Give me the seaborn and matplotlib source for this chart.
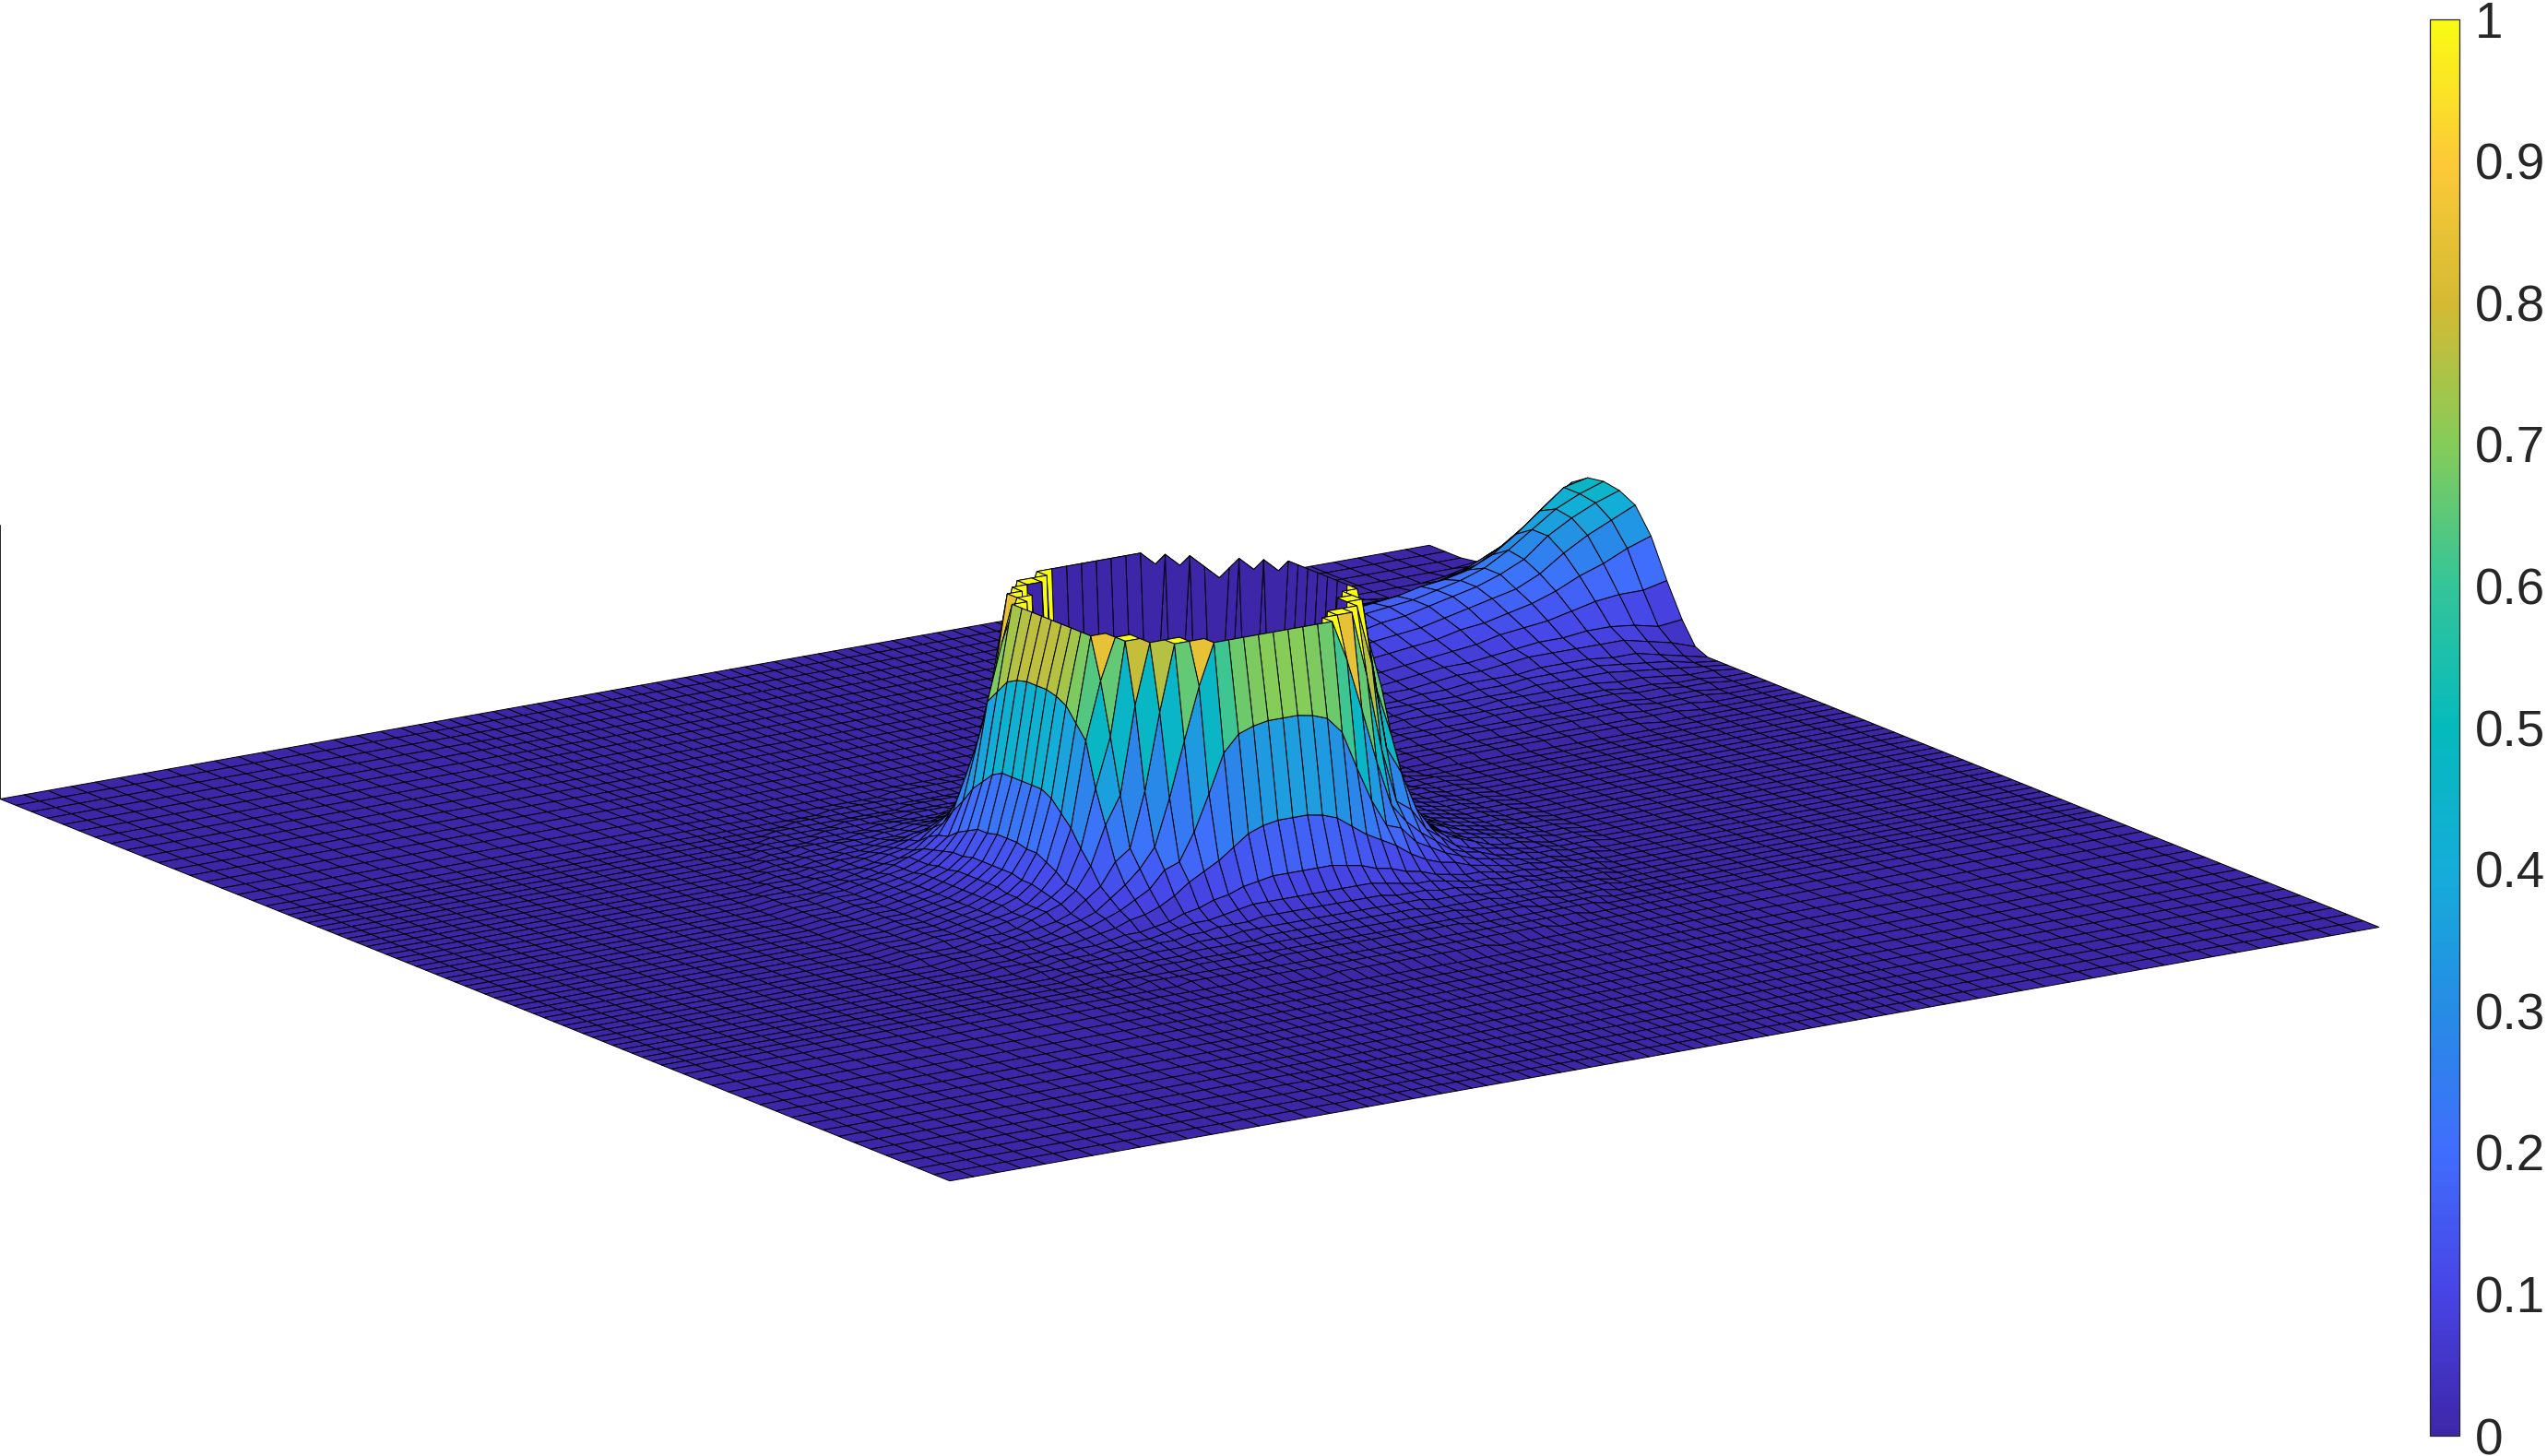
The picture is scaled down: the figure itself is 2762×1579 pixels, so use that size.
import numpy as np
import matplotlib
matplotlib.use("Agg")
import matplotlib.pyplot as plt
from matplotlib.cm import ScalarMappable
from matplotlib.colors import Normalize
from mpl_toolkits.mplot3d import proj3d
from mpl_toolkits.mplot3d.art3d import Poly3DCollection
import seaborn as sns

# Mesh lines from the centre outwards (the mesh is finer round the crater).
half_nodes = [0, .0207, .0414, .0621, .0828, .1035, .1242, .1449, .1656, .1863, .207, .2277, .2484,
              .2691, .2898, .3105, .3312, .3519, .3726, .3933, .414, .44, .468, .5, .5333, .5667,
              .6, .6333, .6667, .7, .7333, .7667, .8, .8333, .8667, .9, .9333, .9667, 1.0]

# Heights in percent, read node by node from the picture.
# Ring: quarter of the crater, rows = |y nodes| and columns = |x nodes| from the crater's centre node.
ring_00 = [0,0,0,0,0,0,0,0,0,100,77,43,23,14,10,7,5,4,3,2,2,1,1]
ring_01 = [0,0,0,0,0,0,0,0,0,100,77,43,23,14,10,7,5,4,3,2,2,1,1]
ring_02 = [0,0,0,0,0,0,0,0,0,100,76,43,22,14,10,7,5,4,3,2,2,1,1]
ring_03 = [0,0,0,0,0,0,0,0,0,100,74,41,22,13,9,7,5,4,3,2,2,1,1]
ring_04 = [0,0,0,0,0,0,0,0,100,100,69,37,20,13,9,7,5,4,3,2,2,1,1]
ring_05 = [0,0,0,0,0,0,0,100,100,85,64,33,18,12,8,6,5,4,3,2,2,1,1]
ring_06 = [0,0,0,0,0,0,0,100,100,66,48,27,15,11,8,6,5,4,3,2,2,1,1]
ring_07 = [0,0,0,0,0,100,100,100,78,46,36,22,14,10,8,6,4,3,3,2,1,1,1]
ring_08 = [0,0,0,0,100,100,100,76,48,28,24,16,12,8,6,5,4,3,2,2,1,1,1]
ring_09 = [100,100,100,100,100,85,66,46,29,22,17,13,9,7,6,4,3,3,2,2,1,1,0]
ring_10 = [70,70,69,67,61,47,34,24,22,16,13,10,8,6,5,4,3,2,2,1,1,1,0]
ring_11 = [35,35,34,32,28,24,21,18,14,11,9,8,6,5,4,3,3,2,2,1,1,0,0]
ring_12 = [17,17,17,16,15,13,12,10,9,7,6,5,5,4,3,3,2,2,1,1,1,0,0]
ring_13 = [10,10,10,10,10,9,8,7,7,6,5,4,4,3,3,2,2,2,1,1,0,0,0]
ring_14 = [7,7,7,7,7,6,6,6,5,5,4,4,3,3,3,2,2,1,1,1,0,0,0]
ring_15 = [5,5,5,5,5,5,5,4,4,4,3,3,3,2,2,2,2,1,1,0,0,0,0]
ring_16 = [4,4,4,4,4,4,3,3,3,3,3,2,2,2,2,1,1,1,1,0,0,0,0]
ring_17 = [3,3,3,3,3,3,3,3,2,2,2,2,2,2,1,1,1,1,0,0,0,0,0]
ring_18 = [2,2,2,2,2,2,2,2,2,2,2,2,1,1,1,1,1,0,0,0,0,0,0]
ring_19 = [2,2,2,2,2,2,2,1,1,1,1,1,1,1,1,1,0,0,0,0,0,0,0]
ring_20 = [1,1,1,1,1,1,1,1,1,1,1,1,1,1,0,0,0,0,0,0,0,0,0]
ring_21 = [1,1,1,1,1,1,1,1,1,1,1,0,0,0,0,0,0,0,0,0,0,0,0]
ring_22 = [1,1,1,1,1,1,0,0,0,0,0,0,0,0,0,0,0,0,0,0,0,0,0]

# Far side of the rim (hidden behind the lip): nodes counted from the crater's centre node.
back_p = [9, 8, 7, 6, 5, 4, 7, 9, 8, 8, 7, 6, 5]
back_q = [4, 5, 6, 7, 8, 9, 7, 5, 6, 7, 8, 8, 9]
back_z = [95, 95, 95, 95, 95, 95, 90, 75, 65, 62, 62, 65, 75]

# Bump on the far edge: rows = mesh steps in from that edge, columns = y nodes 10..38 from the centre.
bump_00 = [0,0,0,0,0,0,0,0,0,0,0,2,10,22,36,45,48,49,48,44,37,29,21,13,6,1,0,0,0]
bump_01 = [0,0,0,0,0,0,0,1,1,1,2,5,9,20,33,41,45,46,46,38,30,22,14,8,3,0,0,0,0]
bump_02 = [0,0,0,0,0,1,1,1,2,3,4,7,11,20,29,37,41,42,39,31,23,16,10,5,1,0,0,0,0]
bump_03 = [0,0,0,1,1,1,1,2,3,4,6,9,12,19,26,32,36,36,32,25,19,12,7,3,0,0,0,0,0]
bump_04 = [0,0,1,1,1,2,2,3,4,5,6,9,12,17,22,26,29,30,26,20,15,10,6,1,0,0,0,0,0]
bump_05 = [0,1,1,1,1,2,2,3,5,6,7,9,11,15,19,22,25,25,22,17,13,8,4,0,0,0,0,0,0]
bump_06 = [0,1,1,2,2,3,3,4,5,6,7,9,11,14,17,20,22,22,20,15,11,7,3,1,0,0,0,0,0]
bump_07 = [1,1,2,2,2,3,3,4,5,6,7,9,10,13,15,18,20,20,19,14,10,6,3,1,0,0,0,0,0]
bump_08 = [1,1,2,2,2,3,3,4,5,6,6,8,9,11,14,16,18,18,17,13,9,6,3,1,0,0,0,0,0]
bump_09 = [1,1,2,2,2,3,3,4,4,5,6,7,8,10,12,14,16,17,16,12,8,5,3,1,0,0,0,0,0]
bump_10 = [1,1,2,2,2,3,3,4,4,5,6,7,8,9,11,13,15,16,15,11,7,5,2,1,0,0,0,0,0]
bump_11 = [1,1,1,2,2,3,3,3,4,4,5,6,7,8,10,12,13,14,13,10,7,4,2,1,0,0,0,0,0]
bump_12 = [1,1,1,2,2,2,3,3,4,4,5,5,6,7,9,10,12,13,13,12,10,8,6,4,2,1,0,0,0]
bump_13 = [1,1,1,2,2,2,3,3,4,4,4,5,5,7,8,9,11,12,12,11,9,7,5,3,2,1,0,0,0]
bump_14 = [1,1,1,1,2,2,2,3,3,4,4,4,5,6,7,8,10,11,11,10,8,6,4,3,1,1,0,0,0]
bump_15 = [1,1,1,1,2,2,2,2,3,3,3,4,4,5,6,7,9,10,10,9,7,5,4,2,1,0,0,0,0]
bump_16 = [0,1,1,1,1,1,2,2,2,3,3,3,4,5,6,7,8,9,9,8,6,5,3,2,1,0,0,0,0]
bump_17 = [0,0,1,1,1,1,2,2,2,2,3,3,3,4,5,6,7,8,8,7,6,4,3,2,1,0,0,0,0]
bump_18 = [0,0,0,1,1,1,1,2,2,2,2,3,3,3,4,5,6,7,7,6,5,4,2,1,1,0,0,0,0]

cbar_ticks = [0, 0.1, 0.2, 0.3, 0.4, 0.5, 0.6, 0.7, 0.8, 0.9, 1]
cbar_labels = ["0", "0.1", "0.2", "0.3", "0.4", "0.5", "0.6", "0.7", "0.8", "0.9", "1"]
parula = [(0.2422,0.1504,0.6603),(0.2810,0.2670,0.9000),(0.2500,0.4300,0.9900),
          (0.1500,0.5500,0.9000),(0.0800,0.6800,0.8500),(0.0200,0.7300,0.7400),
          (0.2000,0.7700,0.6000),(0.5200,0.8000,0.3500),(0.8300,0.7300,0.2000),
          (0.9900,0.7900,0.2200),(0.9769,0.9839,0.0805)]

sns.set_theme(style="white")
plt.rcParams["font.family"] = ["Liberation Sans", "DejaVu Sans"]
cmap = sns.blend_palette(parula, n_colors=64, as_cmap=True)

W, H = 2762, 1579
half_arr = np.array(half_nodes)
nodes = np.concatenate([-half_arr[:0:-1], half_arr])
X, Y = np.meshgrid(nodes, nodes)

quarter = np.array([ring_00, ring_01, ring_02, ring_03, ring_04, ring_05, ring_06, ring_07, ring_08,
                    ring_09, ring_10, ring_11, ring_12, ring_13, ring_14, ring_15, ring_16, ring_17,
                    ring_18, ring_19, ring_20, ring_21, ring_22], float)
half = np.hstack([quarter[:, :0:-1], quarter])
ring_block = np.vstack([half[:0:-1], half])
bump_block = np.array([bump_00, bump_01, bump_02, bump_03, bump_04, bump_05, bump_06, bump_07,
                       bump_08, bump_09, bump_10, bump_11, bump_12, bump_13, bump_14, bump_15,
                       bump_16, bump_17, bump_18], float).T[:, ::-1]
Z = np.zeros((77, 77))
Z[15:60, 15:60] += ring_block          # the crater's centre node is one mesh step off the plate's centre
for p, q, v in zip(back_p, back_q, back_z):
    Z[37 + q, 37 + p] = v
Z[48:77, 58:77] += bump_block
Z /= 100.0

fig = plt.figure(figsize=(W / 100, H / 100), dpi=100, facecolor="white")
ax = fig.add_axes([0, 0, 1, 1], projection="3d", proj_type="ortho")
ax.set_axis_off()
ax.computed_zorder = False
ax.view_init(elev=15.5, azim=-123.6)
ax.set_box_aspect((1, 1, 0.1652))
ax.set_xlim(-1, 1, view_margin=0)
ax.set_ylim(-1, 1, view_margin=0)
ax.set_zlim(0, 1, view_margin=0)

# place the axes so that the plate's centre and width land where they are in the reference
ax.M = ax.get_proj()
xl = ax.viewLim.intervalx
yl = ax.viewLim.intervaly
def unit(px, py, pz):
    a, b, _ = proj3d.proj_transform(px, py, pz, ax.M)
    return (a - xl[0]) / (xl[1] - xl[0]), (b - yl[0]) / (yl[1] - yl[0])
u0, v0 = unit(0, 0, 0)
u1, _ = unit(1, -1, 0)
u2, _ = unit(-1, -1, 0)
S = 1550 / (u1 - u2)
left = 1290 - u0 * S
bottom = (H - 936) - v0 * S
ax.set_position([left / W, bottom / H, S / W, S / H])

# Three layers, because a depth sort alone paints the rim's far slope over the crater's inner wall:
# what lies behind the crater, then the crater's inside, then what lies in front of it.
hole = np.zeros_like(Z, dtype=bool)
hole[28:47, 28:47] = Z[28:47, 28:47] == 0
layers = {0: ([], []), 1: ([], []), 2: ([], [])}
for r in range(Z.shape[0] - 1):
    for c in range(Z.shape[1] - 1):
        ids = [(r, c), (r, c + 1), (r + 1, c + 1), (r + 1, c)]
        cell = [(X[i], Y[i], Z[i]) for i in ids]
        if any(hole[i] for i in ids):
            layer = 1
        else:
            cx = np.mean([v[0] for v in cell])
            cy = np.mean([v[1] for v in cell])
            layer = 0 if 0.553 * (cx + 0.0207) + 0.833 * (cy + 0.0207) > 0 else 2
        layers[layer][0].append(cell)
        layers[layer][1].append(cmap(float(np.clip(Z[r, c], 0, 1))))
for layer, (cells, colours) in layers.items():
    coll = Poly3DCollection(cells, facecolors=colours, edgecolors="black", linewidths=0.7,
                            zorder=layer + 2, clip_on=False)
    ax.add_collection3d(coll, autolim=False)
line = ax.plot([-1, -1], [1, 1], [0, 1], color="#262626", lw=1.4, zorder=1)[0]
line.set_clip_on(False)

cax = fig.add_axes([2635 / W, (H - 1557) / H, 32 / W, 1536 / H])
cb = fig.colorbar(ScalarMappable(Normalize(0, 1), cmap=cmap), cax=cax, ticks=cbar_ticks)
cb.ax.set_yticklabels(cbar_labels)
cb.ax.tick_params(direction="in", length=11.5, width=0.7, color="#262626", pad=12,
                  labelsize=39.5, labelcolor="#262626", right=True, left=False)
cb.outline.set_edgecolor("#262626")
cb.outline.set_linewidth(0.9)

fig.savefig("out.png", dpi=100, facecolor="white")
